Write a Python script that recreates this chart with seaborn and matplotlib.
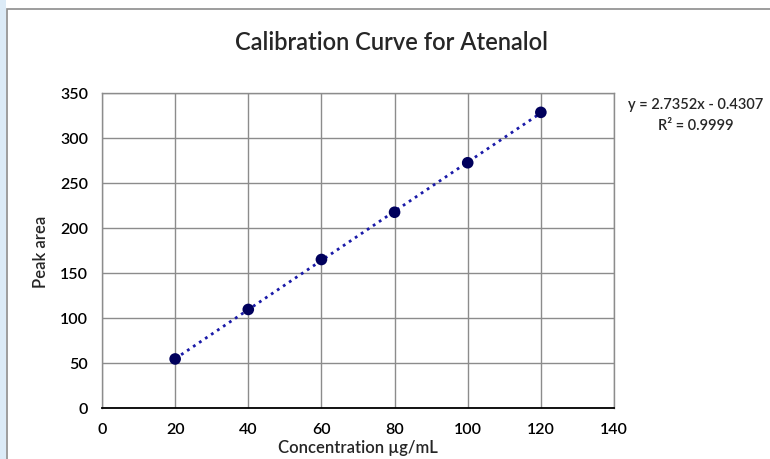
import matplotlib
matplotlib.use("Agg")
import matplotlib.pyplot as plt
import seaborn as sns
import pandas as pd
from matplotlib.patches import Rectangle

# Data
concentration = [20, 40, 60, 80, 100, 120]
peak_area = [54.5, 109.5, 165.0, 217.5, 272.5, 328.5]
x_ticks = [0, 20, 40, 60, 80, 100, 120, 140]
y_ticks = [0, 50, 100, 150, 200, 250, 300, 350]
equation = "y = 2.7352x - 0.4307"
r_squared = "R² = 0.9999"

df = pd.DataFrame({"Concentration": concentration, "Peak area": peak_area})

sns.set_style("white")
plt.rcParams["font.family"] = ["Lato", "DejaVu Sans"]

fig = plt.figure(figsize=(7.7, 4.6), dpi=100)
ax = fig.add_axes([102 / 770, 1 - 409 / 460, 512 / 770, 315 / 460])

# faint blue strip on the far left and the chart border
fig.patches.append(Rectangle((0, 0), 6 / 770, 1, transform=fig.transFigure,
                             facecolor="#dcebf7", edgecolor="none", zorder=0))
fig.patches.append(Rectangle((7 / 770, -0.1), 1.2, 1 - 10 / 460 + 0.1,
                             transform=fig.transFigure, facecolor="none",
                             edgecolor="#8c8c8c", lw=1.2, zorder=1))

sns.regplot(data=df, x="Concentration", y="Peak area", ax=ax, ci=None,
            truncate=True,
            scatter_kws=dict(s=70, color="#00005c", alpha=1, zorder=3,
                             edgecolor="none"),
            line_kws=dict(color="#1a1aa8", ls=(0, (1, 1.6)), lw=2, zorder=2))

ax.set_xlim(0, 140)
ax.set_ylim(0, 350)
ax.set_xticks(x_ticks)
ax.set_yticks(y_ticks)
ax.grid(True, color="#8c8c8c", lw=1)
ax.set_axisbelow(True)
for side in ["top", "right", "left"]:
    ax.spines[side].set_color("#8c8c8c")
    ax.spines[side].set_linewidth(1)
ax.spines["bottom"].set_color("black")
ax.spines["bottom"].set_linewidth(1.3)
ax.tick_params(axis="both", length=0, labelsize=11.5, colors="black")
ax.tick_params(axis="x", pad=10)
ax.tick_params(axis="y", pad=10)
for lab in ax.get_xticklabels() + ax.get_yticklabels():
    lab.set_fontweight("semibold")

ax.set_xlabel("Concentration µg/mL", fontsize=12, labelpad=2,
              fontweight="semibold")
ax.set_ylabel("Peak area", fontsize=12, labelpad=8, fontweight="semibold")

fig.text(392 / 770, 1 - 42 / 460, "Calibration Curve for Atenalol",
         ha="center", va="center", fontsize=17, fontweight="semibold")
fig.text(696 / 770, 1 - 105 / 460, equation, ha="center", va="center",
         fontsize=10.5, fontweight="semibold")
fig.text(696 / 770, 1 - 126 / 460, r_squared, ha="center", va="center",
         fontsize=10.5, fontweight="semibold")

fig.savefig("out.png", dpi=100)
